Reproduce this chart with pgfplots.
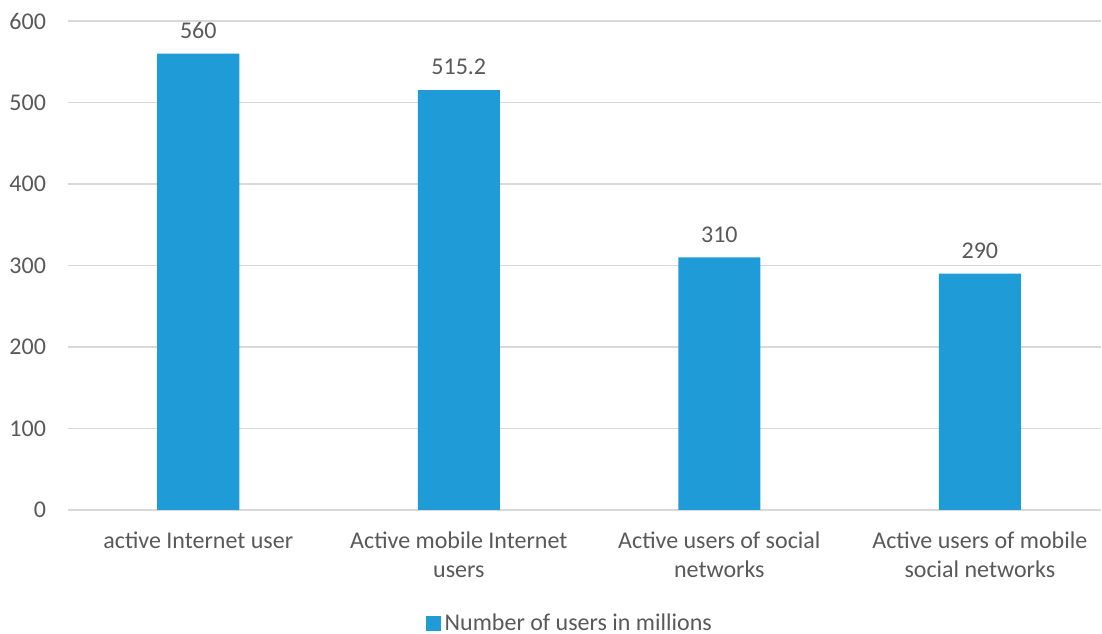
\documentclass[border=0pt]{standalone}
\usepackage{fontspec}
\setmainfont{Carlito}
\usepackage{pgfplots}
\pgfplotsset{compat=1.18}
\definecolor{barblue}{HTML}{1F9BD7}
\definecolor{txt}{HTML}{595959}
\definecolor{gridgray}{HTML}{D9D9D9}
\begin{document}
\begin{tikzpicture}[font=\fontsize{12}{14.5}\selectfont]
\begin{axis}[
  name=ax,
  scale only axis,
  width=516.5pt, height=244.5pt,
  xmin=-0.5, xmax=3.465,
  ymin=0, ymax=600,
  ytick={0,100,...,600},
  xtick=data,
  xticklabels={active Internet user,Active mobile Internet\\users,Active users of social\\networks,Active users of mobile\\social networks},
  xticklabel style={align=center, text=txt, yshift=-7.5pt},
  yticklabel style={text=txt, xshift=-7.5pt},
  axis line style={draw=none},
  tick style={draw=none},
  xmajorgrids=false,
  ymajorgrids=true,
  grid style={draw=gridgray, line width=0.8pt},
  major tick length=0pt,
  /pgf/number format/assume math mode=true,
  ybar, bar width=0.315,
  nodes near coords,
  nodes near coords style={text=txt, yshift=4pt},
  legend style={at={(0.487,-0.232)}, anchor=center, draw=none, fill=none, text=txt, font=\fontsize{12}{14.5}\selectfont, inner sep=0pt},
  legend image code/.code={\fill[barblue] (0pt,-3.6pt) rectangle (7.2pt,3.6pt);},
  clip=false,
]
\addplot[fill=barblue, draw=none] coordinates {(0,560) (1,515.2) (2,310) (3,290)};
\addlegendentry{Number of users in millions}
\end{axis}
\pgfresetboundingbox
\path ([xshift=-34pt,yshift=-62pt]ax.south west) rectangle ([xshift=0.5pt,yshift=10.5pt]ax.north east);
\end{tikzpicture}
\end{document}
